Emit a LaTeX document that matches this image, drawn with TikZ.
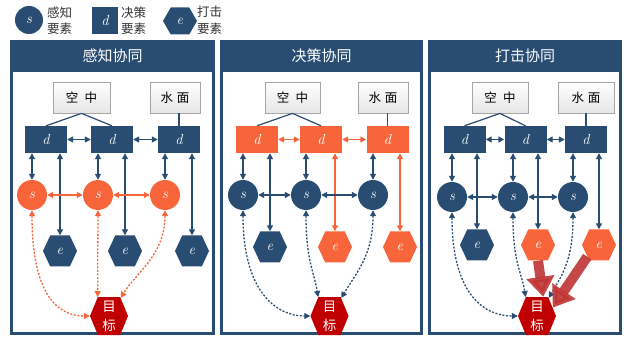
\documentclass[tikz,border=0pt]{standalone}
\usepackage{fontspec}
\newfontfamily\cjk{Noto Sans CJK SC}
\usetikzlibrary{arrows.meta,shapes.geometric,shapes.symbols}
\definecolor{dblue}{HTML}{294D72}
\definecolor{orng}{HTML}{F8653B}
\definecolor{tred}{HTML}{C00000}
\definecolor{bigred}{RGB}{192,52,52}
\tikzset{
 dnode/.style={rectangle, minimum width=42pt, minimum height=27pt, inner sep=0pt, fill=#1, text=white, font=\fontsize{14.5}{14.5}\selectfont\itshape},
 snode/.style={circle, minimum size=30pt, inner sep=0pt, fill=#1, text=white, font=\fontsize{14.5}{14.5}\selectfont\itshape},
 enode/.style={signal, signal to=east and west, signal pointer angle=130, minimum width=34pt, minimum height=31pt, inner sep=0pt, fill=#1, text=white, font=\fontsize{14.5}{14.5}\selectfont\itshape},
 tnode/.style={signal, signal to=east and west, signal pointer angle=135, minimum width=38pt, minimum height=38pt, inner sep=0pt, fill=tred, text=white, align=center, font=\cjk\fontsize{13.5}{19}\selectfont},
 lbox/.style={rectangle, draw=gray!70, line width=0.8pt, top color=white, bottom color=gray!20, minimum height=31pt, inner sep=0pt, font=\cjk\fontsize{12.5}{14}\selectfont},
 ptitle/.style={text=white, font=\cjk\fontsize{15}{16}\selectfont},
 legtext/.style={anchor=west, align=left, inner sep=0pt, font=\cjk\fontsize{12.5}{16.5}\selectfont, text=black!80},
 frame/.style={draw=dblue, line width=3pt},
 dconn/.style={draw=#1, line width=1.4pt, {Triangle[length=6pt,width=6pt]}-{Triangle[length=6pt,width=6pt]}},
 dotconn/.style={draw=#1, line width=1.3pt, dash pattern=on 2pt off 1.6pt, {Triangle[length=6pt,width=6pt]}-{Triangle[length=6pt,width=6pt]}},
 plain/.style={draw=dblue, line width=1.2pt},
 bigarrow/.style={draw=bigred, line width=10pt, -{Triangle[length=20pt,width=27pt]}, opacity=0.9},
}
\begin{document}
\begin{tikzpicture}[x=1pt,y=-1pt]
\useasboundingbox (0,0) rectangle (624,339);
\fill[white] (0,0) rectangle (624,339);
% legend
\node[snode=dblue, minimum size=28pt] (ls) at (29,20) {s};
\node[legtext] (lst) at (47,20.5) {感知\\要素};
\node[dnode=dblue, minimum width=26pt, minimum height=27pt] (ld) at (105,21) {d};
\node[legtext] (ldt) at (121,20.5) {决策\\要素};
\node[enode=dblue, minimum width=34pt, minimum height=27pt, signal pointer angle=120] (le) at (180,21) {e};
\node[legtext] (let) at (197,20.5) {打击\\要素};

% ===== panel 1 =====
\fill[dblue] (10,40) rectangle (215,72);
\draw[frame] (11.5,41.5) rectangle (213.5,333.5);
\node[ptitle] (p1title) at (112.5,56) {感知协同};
\node[lbox, minimum width=57pt] (p1air) at (81.5,97.5) {空\hspace{0.5em}中};
\node[lbox, minimum width=50pt] (p1sea) at (175,97.5) {水\hspace{0.3em}面};
\node[dnode=dblue] (p1d1) at (46,139.5) {d};
\node[dnode=dblue] (p1d2) at (112,139.5) {d};
\node[dnode=dblue] (p1d3) at (179,139.5) {d};
\node[snode=orng] (p1s1) at (32,195) {s};
\node[snode=orng] (p1s2) at (98,195) {s};
\node[snode=orng] (p1s3) at (165,195) {s};
\node[enode=dblue] (p1e1) at (60,251) {e};
\node[enode=dblue] (p1e2) at (125,251) {e};
\node[enode=dblue] (p1e3) at (192,251) {e};
\node[tnode] (p1t) at (109,316) {目\\标};
\draw[plain] (p1air.south) -- (p1d1.north);
\draw[plain] (p1air.south) -- (p1d2.north);
\draw[plain] (p1sea.south -| p1d3) -- (p1d3.north);
\draw[dconn=dblue] (p1d1.east) -- (p1d2.west);
\draw[dconn=dblue] (p1d2.east) -- (p1d3.west);
\draw[dconn=dblue] (p1d1.south -| p1s1) -- (p1s1.north);
\draw[dconn=dblue] (p1d2.south -| p1s2) -- (p1s2.north);
\draw[dconn=dblue] (p1d3.south -| p1s3) -- (p1s3.north);
\draw[dconn=dblue] (p1d1.south -| p1e1) -- (p1e1.north);
\draw[dconn=dblue] (p1d2.south -| p1e2) -- (p1e2.north);
\draw[dconn=dblue] (p1d3.south -| p1e3) -- (p1e3.north);
\draw[dconn=orng] (p1s1.east) -- (p1s2.west);
\draw[dconn=orng] (p1s2.east) -- (p1s3.west);
\draw[dotconn=orng] (p1s1.south) .. controls +(0,80) and +(-35,0) .. (p1t.west);
\draw[dotconn=orng] (p1s2.south) -- (p1t.121);
\draw[dotconn=orng] (p1s3.south) .. controls +(0,45) and +(15,-25) .. (p1t.57);

% ===== panel 2 =====
\fill[dblue] (220,40) rectangle (423,72);
\draw[frame] (221.5,41.5) rectangle (421.5,333.5);
\node[ptitle] (p2title) at (321.5,56) {决策协同};
\node[lbox, minimum width=55pt] (p2air) at (292.5,97.5) {空\hspace{0.5em}中};
\node[lbox, minimum width=50pt] (p2sea) at (383,97.5) {水\hspace{0.3em}面};
\node[dnode=orng] (p2d1) at (257,139.5) {d};
\node[dnode=orng] (p2d2) at (321,139.5) {d};
\node[dnode=orng] (p2d3) at (387.5,139.5) {d};
\node[snode=dblue] (p2s1) at (243,195) {s};
\node[snode=dblue] (p2s2) at (306,195) {s};
\node[snode=dblue] (p2s3) at (373,195) {s};
\node[enode=dblue] (p2e1) at (270,247) {e};
\node[enode=orng] (p2e2) at (335,247) {e};
\node[enode=orng] (p2e3) at (400,247) {e};
\node[tnode] (p2t) at (329.5,316) {目\\标};
\draw[plain] (p2air.south) -- (p2d1.north);
\draw[plain] (p2air.south) -- (p2d2.north);
\draw[plain] (p2sea.south -| p2d3) -- (p2d3.north);
\draw[dconn=orng] (p2d1.east) -- (p2d2.west);
\draw[dconn=orng] (p2d2.east) -- (p2d3.west);
\draw[dconn=dblue] (p2d1.south -| p2s1) -- (p2s1.north);
\draw[dconn=dblue] (p2d2.south -| p2s2) -- (p2s2.north);
\draw[dconn=dblue] (p2d3.south -| p2s3) -- (p2s3.north);
\draw[dconn=dblue] (p2d1.south -| p2e1) -- (p2e1.north);
\draw[dconn=orng] (p2d2.south -| p2e2) -- (p2e2.north);
\draw[dconn=orng] (p2d3.south -| p2e3) -- (p2e3.north);
\draw[dconn=dblue] (p2s1.east) -- (p2s2.west);
\draw[dconn=dblue] (p2s2.east) -- (p2s3.west);
\draw[dotconn=dblue] (p2s1.south) .. controls +(0,80) and +(-35,0) .. (p2t.west);
\draw[dotconn=dblue] (p2s2.south) .. controls +(0,50) and +(-4,-25) .. (p2t.121);
\draw[dotconn=dblue] (p2s3.south) .. controls +(0,45) and +(15,-25) .. (p2t.57);

% ===== panel 3 =====
\fill[dblue] (428,40) rectangle (622,72);
\draw[frame] (429.5,41.5) rectangle (620.5,333.5);
\node[ptitle] (p3title) at (525,56) {打击协同};
\node[lbox, minimum width=56pt] (p3air) at (500,97.5) {空\hspace{0.5em}中};
\node[lbox, minimum width=56pt] (p3sea) at (586,97.5) {水\hspace{0.3em}面};
\node[dnode=dblue] (p3d1) at (464.5,139.5) {d};
\node[dnode=dblue] (p3d2) at (525.5,139.5) {d};
\node[dnode=dblue] (p3d3) at (586,139.5) {d};
\node[snode=dblue] (p3s1) at (452,197) {s};
\node[snode=dblue] (p3s2) at (513,197) {s};
\node[snode=dblue] (p3s3) at (573,197) {s};
\node[enode=dblue] (p3e1) at (477,245) {e};
\node[enode=orng] (p3e2) at (538,245) {e};
\node[enode=orng] (p3e3) at (599,245) {e};
\node[tnode] (p3t) at (537,316) {目\\标};
\draw[plain] (p3air.south) -- (p3d1.north);
\draw[plain] (p3air.south) -- (p3d2.north);
\draw[plain] (p3sea.south -| p3d3) -- (p3d3.north);
\draw[dconn=dblue] (p3d1.east) -- (p3d2.west);
\draw[dconn=dblue] (p3d2.east) -- (p3d3.west);
\draw[dconn=dblue] (p3d1.south -| p3s1) -- (p3s1.north);
\draw[dconn=dblue] (p3d2.south -| p3s2) -- (p3s2.north);
\draw[dconn=dblue] (p3d3.south -| p3s3) -- (p3s3.north);
\draw[dconn=dblue] (p3d1.south -| p3e1) -- (p3e1.north);
\draw[dconn=dblue] (p3d2.south -| p3e2) -- (p3e2.north);
\draw[dconn=dblue] (p3d3.south -| p3e3) -- (p3e3.north);
\draw[dconn=dblue] (p3s1.east) -- (p3s2.west);
\draw[dconn=dblue] (p3s2.east) -- (p3s3.west);
\draw[dotconn=dblue] (p3s1.south) .. controls +(0,80) and +(-35,0) .. (p3t.west);
\draw[dotconn=dblue] (p3s2.south) .. controls +(0,50) and +(-4,-25) .. (p3t.121);
\draw[dotconn=dblue] (p3s3.south) .. controls +(0,45) and +(15,-25) .. (p3t.57);
\draw[bigarrow] (p3e2.south) -- (p3t.72);
\draw[bigarrow] (p3e3.225) -- (p3t.28);
\end{tikzpicture}
\end{document}
